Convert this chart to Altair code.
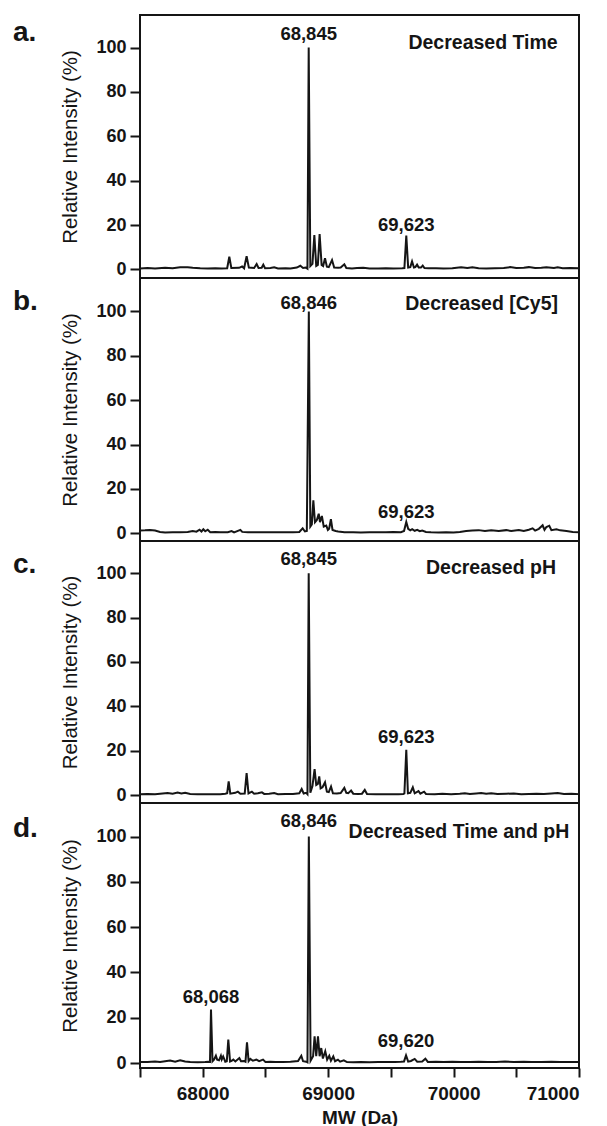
import altair as alt
import pandas as pd

FONT = "Liberation Sans"

# ---------------- data ----------------
mass_a = [67500, 67560, 67620, 67700, 67760, 67820, 67880, 67920, 67980, 68040, 68100, 68150, 68195, 68212, 68228,
          68290, 68314, 68330, 68350, 68368, 68410, 68430, 68445, 68470, 68483, 68497, 68540, 68570, 68600, 68660,
          68700, 68750, 68778, 68800, 68822, 68835, 68845, 68858, 68875, 68890, 68905, 68918, 68932, 68948, 68960,
          68975, 68990, 69005, 69031, 69048, 69080, 69100, 69129, 69145, 69190, 69230, 69280, 69330, 69400, 69460,
          69520, 69590, 69608, 69623, 69638, 69655, 69669, 69684, 69695, 69709, 69722, 69740, 69754, 69768, 69800,
          69860, 69920, 69990, 70060, 70110, 70150, 70200, 70260, 70330, 70400, 70450, 70500, 70560, 70600, 70650,
          70700, 70740, 70800, 70830, 70870, 70930, 71000]
int_a = [0.4, 0.6, 0.4, 0.7, 0.5, 0.9, 1.0, 0.7, 0.5, 0.4, 0.5, 0.4, 0.5, 5.7, 0.6,
         0.7, 1.3, 0.5, 5.9, 0.8, 0.6, 2.4, 0.6, 0.7, 2.1, 0.5, 0.6, 0.9, 0.4, 0.5,
         0.4, 0.8, 1.6, 0.6, 0.8, 0.3, 100, 1.5, 2.5, 15.5, 1.5, 2.0, 15.9, 2.0, 1.5,
         5.0, 1.2, 1.0, 4.2, 0.8, 0.7, 0.8, 2.3, 0.6, 0.4, 0.6, 0.7, 0.4, 0.4, 0.5,
         0.4, 0.5, 0.6, 15.2, 0.8, 1.0, 3.6, 0.8, 1.0, 2.1, 0.8, 0.8, 1.7, 0.6, 0.5,
         0.5, 0.4, 0.5, 0.9, 0.6, 0.9, 0.5, 0.4, 0.5, 0.6, 1.0, 0.6, 0.7, 1.0, 0.6,
         0.7, 1.0, 0.6, 0.9, 0.5, 0.6, 0.5]

mass_b = [67500, 67540, 67580, 67620, 67660, 67700, 67760, 67820, 67880, 67920, 67950, 67975, 67990, 68005, 68020,
          68040, 68060, 68100, 68140, 68200, 68230, 68250, 68300, 68315, 68360, 68420, 68480, 68540, 68600, 68660,
          68720, 68770, 68797, 68815, 68830, 68846, 68858, 68870, 68882, 68895, 68910, 68925, 68935, 68950, 68965,
          68985, 68998, 69008, 69022, 69035, 69060, 69080, 69130, 69200, 69260, 69330, 69400, 69460, 69520, 69580,
          69605, 69623, 69638, 69655, 69670, 69690, 69710, 69730, 69750, 69780, 69820, 69880, 69940, 70000, 70050,
          70100, 70150, 70200, 70250, 70300, 70360, 70420, 70460, 70520, 70560, 70600, 70630, 70650, 70680, 70710,
          70725, 70740, 70763, 70780, 70820, 70850, 70900, 70950, 71000]
int_b = [1.2, 1.3, 1.5, 1.2, 0.6, 0.3, 0.4, 0.5, 0.6, 1.0, 0.7, 1.6, 0.8, 1.8, 0.9,
         1.6, 0.5, 0.6, 0.4, 0.5, 1.0, 0.4, 1.5, 0.6, 0.4, 0.5, 0.4, 0.4, 0.5, 0.4,
         0.5, 0.6, 2.2, 0.8, 1.0, 100, 3.0, 4.0, 14.8, 5.0, 6.0, 8.8, 5.0, 7.8, 3.0,
         3.5, 1.5, 2.0, 6.3, 1.5, 1.0, 0.8, 0.4, 0.4, 0.3, 0.4, 0.4, 0.5, 0.6, 0.5,
         1.0, 5.1, 2.0, 1.3, 1.8, 1.1, 1.5, 0.9, 1.2, 0.6, 0.4, 0.3, 0.5, 0.3, 0.6,
         1.0, 1.2, 1.4, 1.0, 1.3, 1.0, 1.4, 1.0, 1.5, 1.0, 1.6, 2.2, 1.2, 2.0, 3.6,
         1.5, 2.8, 3.4, 1.4, 1.8, 1.3, 1.0, 0.6, 0.5]

mass_c = [67500, 67560, 67620, 67680, 67720, 67760, 67800, 67830, 67860, 67900, 67960, 68020, 68080, 68140, 68180,
          68195, 68207, 68220, 68260, 68280, 68300, 68335, 68350, 68365, 68392, 68410, 68440, 68472, 68490, 68530,
          68570, 68600, 68660, 68720, 68770, 68789, 68805, 68825, 68835, 68845, 68858, 68875, 68892, 68905, 68918,
          68929, 68940, 68955, 68975, 68990, 69005, 69023, 69038, 69070, 69100, 69129, 69145, 69160, 69183, 69200,
          69240, 69270, 69292, 69310, 69380, 69440, 69500, 69560, 69600, 69608, 69623, 69636, 69655, 69675, 69690,
          69720, 69735, 69765, 69780, 69850, 69910, 69980, 70050, 70090, 70130, 70180, 70220, 70260, 70300, 70350,
          70420, 70480, 70540, 70600, 70660, 70720, 70780, 70830, 70880, 70940, 71000]
int_c = [0.4, 0.5, 0.4, 0.7, 0.9, 0.6, 1.1, 0.7, 1.0, 0.5, 0.4, 0.3, 0.4, 0.4, 0.6,
         0.8, 6.2, 0.6, 1.0, 1.5, 0.6, 0.7, 9.9, 0.7, 1.5, 0.6, 0.8, 1.2, 0.5, 0.6,
         0.9, 0.4, 0.5, 0.5, 0.8, 2.7, 0.7, 1.0, 0.4, 100, 1.0, 4.0, 11.7, 4.5, 5.0,
         8.4, 3.0, 3.5, 5.7, 1.5, 1.3, 3.8, 0.8, 0.7, 0.9, 3.2, 1.0, 0.8, 2.0, 0.6,
         0.5, 0.6, 2.3, 0.5, 0.4, 0.3, 0.4, 0.4, 0.5, 0.7, 20.4, 0.8, 1.0, 3.5, 0.8,
         1.8, 0.6, 1.5, 0.5, 0.4, 0.6, 0.4, 0.6, 0.8, 0.5, 0.7, 0.9, 0.6, 0.8, 0.5,
         0.6, 0.7, 0.4, 0.5, 0.6, 0.5, 0.7, 0.9, 0.5, 0.6, 0.4]

mass_d = [67500, 67560, 67620, 67660, 67700, 67740, 67780, 67820, 67860, 67900, 67960, 68020, 68045, 68058, 68066,
          68078, 68090, 68105, 68115, 68130, 68145, 68152, 68163, 68180, 68192, 68204, 68218, 68230, 68244, 68260,
          68292, 68305, 68330, 68341, 68353, 68366, 68380, 68400, 68428, 68450, 68481, 68500, 68540, 68580, 68640,
          68700, 68760, 68786, 68800, 68825, 68835, 68846, 68860, 68880, 68892, 68905, 68919, 68932, 68945, 68958,
          68977, 68992, 69009, 69022, 69041, 69055, 69078, 69095, 69125, 69150, 69200, 69260, 69330, 69400, 69460,
          69530, 69580, 69605, 69621, 69638, 69660, 69690, 69710, 69750, 69775, 69795, 69860, 69920, 69990, 70060,
          70130, 70200, 70270, 70340, 70410, 70480, 70560, 70620, 70700, 70780, 70850, 70930, 71000]
int_d = [0.5, 0.4, 0.7, 0.5, 0.8, 1.1, 0.6, 1.2, 0.7, 0.4, 0.3, 0.4, 0.6, 0.5, 23.6,
         0.8, 1.5, 3.2, 1.5, 1.2, 3.2, 1.6, 2.9, 0.6, 0.8, 10.3, 0.7, 1.0, 1.5, 0.7,
         2.2, 0.8, 0.9, 0.6, 9.1, 0.8, 1.8, 1.0, 1.5, 0.8, 1.5, 0.5, 0.6, 0.4, 0.5,
         0.6, 0.9, 3.2, 0.8, 0.6, 0.3, 100, 1.0, 3.0, 11.8, 3.0, 11.8, 3.0, 6.6, 2.0,
         5.2, 1.5, 3.2, 1.0, 2.9, 0.8, 1.5, 0.6, 1.2, 0.4, 0.3, 0.4, 0.3, 0.5, 0.4,
         0.5, 0.6, 0.7, 3.4, 0.6, 0.9, 1.8, 0.6, 0.7, 1.9, 0.5, 0.6, 0.5, 0.6, 0.4,
         0.5, 0.6, 0.4, 0.5, 0.7, 0.4, 0.6, 0.4, 0.5, 0.6, 0.4, 0.5, 0.4]

# peak labels: text, mass, intensity of label baseline
labels_a = (["68,845", "69,623"], [68845, 69623], [103.3, 17.4])
labels_b = (["68,846", "69,623"], [68846, 69623], [101.0, 7.0])
labels_c = (["68,845", "69,623"], [68845, 69623], [103.7, 23.5])
labels_d = (["68,846", "68,068", "69,620"], [68846, 68066, 69621], [104.3, 26.5, 7.1])

conditions = ["Decreased Time", "Decreased [Cy5]", "Decreased pH", "Decreased Time and pH"]
condition_mass = [70830, 70833, 70817, 70923]
condition_y = [99.3, 100.5, 99.5, 99.3]
panel_letters = ["a.", "b.", "c.", "d."]

x_ticks = [67500, 68000, 68500, 69000, 69500, 70000, 70500, 71000]
y_ticks = [0, 20, 40, 60, 80, 100]

# ---------------- chart ----------------
W = 439
INK = "#151515"


def panel(masses, ints, labels, idx, height, ydom, show_x):
    df = pd.DataFrame({"mass": masses, "intensity": ints})
    if show_x:
        xaxis = alt.Axis(values=x_ticks, format="d",
                         labelExpr="datum.value % 1000 === 0 ? datum.label : ''",
                         tickSize=9, tickWidth=2, tickColor=INK, domain=False,
                         labelFont=FONT, labelFontSize=19, labelFontWeight="bold", labelColor=INK,
                         labelPadding=7, title="MW (Da)", titleFont=FONT, titleFontSize=19,
                         titleFontWeight="bold", titleColor=INK, titlePadding=5, grid=False)
    else:
        xaxis = None
    x = alt.X("mass:Q", scale=alt.Scale(domain=[67500, 71000], nice=False, zero=False), axis=xaxis)
    y = alt.Y("intensity:Q", scale=alt.Scale(domain=ydom, nice=False, zero=False),
              axis=alt.Axis(values=y_ticks, tickSize=10, tickWidth=2, tickColor=INK, domain=False,
                            grid=False, labelFont=FONT, labelFontSize=18, labelFontWeight="bold",
                            labelColor=INK, labelPadding=4,
                            title="Relative Intensity (%)", titleFont=FONT, titleFontSize=20.5,
                            titleFontWeight="normal", titleColor=INK, titlePadding=15))
    line = alt.Chart(df).mark_line(color=INK, strokeWidth=2, interpolate="linear").encode(x=x, y=y)

    ldf = pd.DataFrame({"t": labels[0], "m": labels[1], "v": labels[2]})
    peak_txt = alt.Chart(ldf).mark_text(font=FONT, fontSize=18.5, fontWeight="bold", color=INK,
                                        align="center", baseline="alphabetic").encode(
        x=alt.X("m:Q"), y=alt.Y("v:Q"), text="t:N")

    cdf = pd.DataFrame({"t": [conditions[idx]], "m": [condition_mass[idx]], "v": [condition_y[idx]]})
    cond_txt = alt.Chart(cdf).mark_text(font=FONT, fontSize=19.5, fontWeight="bold", color=INK,
                                        align="right", baseline="alphabetic").encode(
        x=alt.X("m:Q"), y=alt.Y("v:Q"), text="t:N")

    letter_y = [26, 32, 32, 34][idx]
    pdf = pd.DataFrame({"t": [panel_letters[idx]]})
    letter = alt.Chart(pdf).mark_text(font=FONT, fontSize=28, fontWeight="bold", color=INK,
                                      align="left", baseline="alphabetic").encode(
        x=alt.value(-127), y=alt.value(letter_y), text="t:N")

    return alt.layer(line, peak_txt, cond_txt, letter).properties(width=W, height=height)


pa = panel(mass_a, int_a, labels_a, 0, 263, [-3.9, 114.7], False)
pb = panel(mass_b, int_b, labels_b, 1, 263, [-3.5, 115.1], False)
pc = panel(mass_c, int_c, labels_c, 2, 262, [-3.6, 114.5], False)
pd_ = panel(mass_d, int_d, labels_d, 3, 265, [-2.2, 114.8], True)

chart = alt.vconcat(pa, pb, pc, pd_, spacing=0, bounds="flush").properties(
    padding={"left": 4, "top": 6, "right": 5, "bottom": 0},
    background="white",
).configure_view(stroke=INK, strokeWidth=2)

chart.save("out.html", embed_options={"renderer": "svg", "actions": False})
